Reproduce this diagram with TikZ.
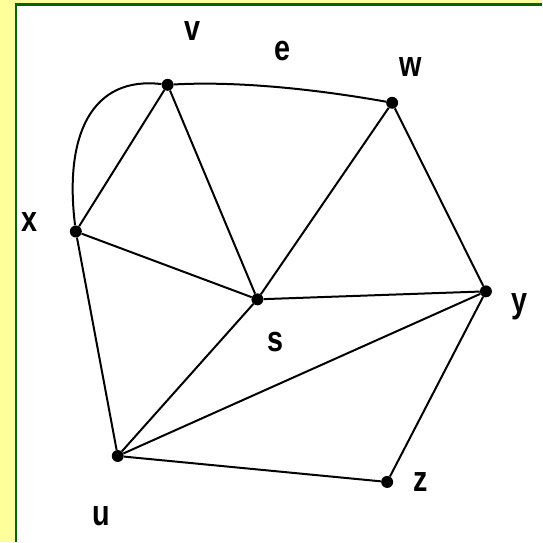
\documentclass[tikz,border=0pt]{standalone}
\usepackage{fontspec}
\setmainfont{Liberation Sans}
\usepackage{graphicx}
\usepackage{xcolor}
\definecolor{framefill}{HTML}{FFFF99}
\definecolor{frameline}{HTML}{006600}
\newcommand{\glyph}[1]{\scalebox{0.8}[1]{#1}}

\begin{document}
\begin{tikzpicture}[x=1pt, y=-1pt,
  vert/.style={circle, fill=black, inner sep=0pt, minimum size=12pt},
  lbl/.style={font=\fontsize{36}{36}\selectfont\bfseries, inner sep=0pt},
  edge/.style={line width=2pt}
]
  % frame
  \fill[framefill] (0,0) rectangle (543,543);
  \fill[white] (16,4.5) rectangle (543,543);
  \draw[frameline, line width=2.4pt] (16.2,543) -- (16.2,4.7) -- (543,4.7);
  \useasboundingbox (0,0) rectangle (543,543);

  % vertices
  \node[vert] (v) at (168, 85) {};
  \node[vert] (w) at (393,103) {};
  \node[vert] (x) at ( 76,232) {};
  \node[vert] (s) at (258,300) {};
  \node[vert] (y) at (487,292) {};
  \node[vert] (u) at (118,457) {};
  \node[vert] (z) at (388,483) {};

  % labels
  \node[lbl] (lv) at (193, 31) {\glyph{v}};
  \node[lbl] (le) at (283, 51) {\glyph{e}};
  \node[lbl] (lw) at (412, 67) {\glyph{w}};
  \node[lbl] (lx) at ( 30,222) {\glyph{x}};
  \node[lbl] (ls) at (276,343) {\glyph{s}};
  \node[lbl] (ly) at (521,307) {\glyph{y}};
  \node[lbl] (lu) at (102,517) {\glyph{u}};
  \node[lbl] (lz) at (422,483) {\glyph{z}};

  % edges
  \draw[edge] (v) .. controls (240,81) and (320,90) .. (w);
  \draw[edge] (x) .. controls (64,135) and (92,76) .. (v);
  \draw[edge] (x) -- (v);
  \draw[edge] (v) -- (s);
  \draw[edge] (w) -- (s);
  \draw[edge] (x) -- (s);
  \draw[edge] (s) -- (y);
  \draw[edge] (w) -- (y);
  \draw[edge] (s) -- (u);
  \draw[edge] (y) -- (u);
  \draw[edge] (y) -- (z);
  \draw[edge] (u) -- (z);
  \draw[edge] (x) -- (u);
\end{tikzpicture}
\end{document}
